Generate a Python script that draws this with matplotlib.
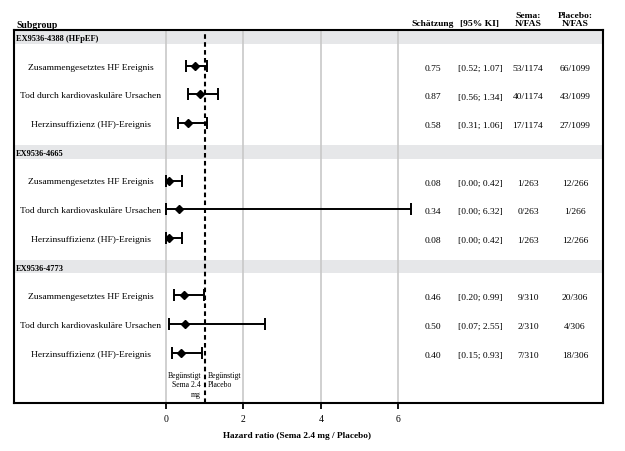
import matplotlib
matplotlib.use("Agg")
import matplotlib.pyplot as plt
from matplotlib.transforms import blended_transform_factory

plt.rcParams['font.family'] = ['Liberation Serif', 'DejaVu Serif']

groups = ["EX9536-4388 (HFpEF)", "EX9536-4665", "EX9536-4773"]
endpoints = ["Zusammengesetztes HF Ereignis", "Tod durch kardiovaskuläre Ursachen",
             "Herzinsuffizienz (HF)-Ereignis"]
hr = [[0.75, 0.87, 0.58], [0.08, 0.34, 0.08], [0.46, 0.50, 0.40]]
ci_lo = [[0.52, 0.56, 0.31], [0.00, 0.00, 0.00], [0.20, 0.07, 0.15]]
ci_hi = [[1.07, 1.34, 1.06], [0.42, 6.32, 0.42], [0.99, 2.55, 0.93]]
sema_n = [["53/1174", "40/1174", "17/1174"], ["1/263", "0/263", "1/263"], ["9/310", "2/310", "7/310"]]
plac_n = [["66/1099", "43/1099", "27/1099"], ["12/266", "1/266", "12/266"], ["20/306", "4/306", "18/306"]]
xticks = [0, 2, 4, 6]
headers = ["Schätzung", "[95% KI]", "Sema:\nN/FAS", "Placebo:\nN/FAS"]

W, H = 625, 452
fig = plt.figure(figsize=(W / 100, H / 100), dpi=100)
L, R, T, B = 14, 603, 31, 404
ax = fig.add_axes([L / W, 1 - B / H, (R - L) / W, (B - T) / H])

x0px, unit = 166.0, 38.7
ax.set_xlim((L - x0px) / unit, (R - x0px) / unit)
slot, y0px = 28.7, 38.0
ax.set_ylim((B - y0px) / slot, (T - y0px) / slot)

for s in ax.spines.values():
    s.set_linewidth(1.5)
    s.set_color('black')

ax.set_xticks(xticks)
ax.set_xticklabels([str(t) for t in xticks], fontsize=7)
ax.tick_params(axis='x', direction='out', length=4, width=1.3, pad=4)
ax.set_yticks([])
for t in xticks:
    ax.axvline(t, color='#c8c8c8', lw=1.2, zorder=1)
ax.axvline(1, color='black', lw=1.5, ls=(0, (2.2, 1.6)), zorder=3)

trans = blended_transform_factory(fig.transFigure, ax.transData)
cols_px = [433, 480, 528, 575]

for g, gname in enumerate(groups):
    yh = g * 4
    ax.axhspan(yh - 0.235, yh + 0.235, color='#e6e7e9', zorder=0, lw=0)
    fig.text(16 / W, yh + 0.05, gname, transform=trans, fontsize=6, fontweight='bold',
             va='center', ha='left')
    for i, ep in enumerate(endpoints):
        y = yh + 1 + i
        ax.errorbar(hr[g][i], y, xerr=[[hr[g][i] - ci_lo[g][i]], [ci_hi[g][i] - hr[g][i]]],
                    fmt='D', color='black', ms=4, elinewidth=1.4, capsize=4.5,
                    capthick=1.4, zorder=4)
        fig.text(91 / W, y + 0.03, ep, transform=trans, fontsize=6.8, ha='center', va='center')
        vals = [f"{hr[g][i]:.2f}", f"[{ci_lo[g][i]:.2f}; {ci_hi[g][i]:.2f}]",
                sema_n[g][i], plac_n[g][i]]
        for cx, v in zip(cols_px, vals):
            fig.text(cx / W, y + 0.07, v, transform=trans, fontsize=6.8, ha='center', va='center')

# header row
fig.text(16 / W, 1 - 25 / H, "Subgroup", fontsize=7, fontweight='bold', ha='left', va='center')
for cx, h in zip(cols_px, headers):
    fig.text(cx / W, 1 - 28 / H, h, fontsize=6.8, fontweight='bold', ha='center', va='bottom',
             linespacing=1.05)

# favour annotations
ax.text(0.9, 11.63, "Begünstigt\nSema 2.4\nmg", fontsize=5.6, ha='right', va='top',
        multialignment='right', linespacing=1.25, zorder=5)
ax.text(1.07, 11.63, "Begünstigt\nPlacebo", fontsize=5.6, ha='left', va='top',
        linespacing=1.25, zorder=5)

fig.text(297 / W, 1 - 436 / H, "Hazard ratio (Sema 2.4 mg / Placebo)", fontsize=6.7,
         fontweight='bold', ha='center', va='center')

fig.savefig("out.png", dpi=100)
